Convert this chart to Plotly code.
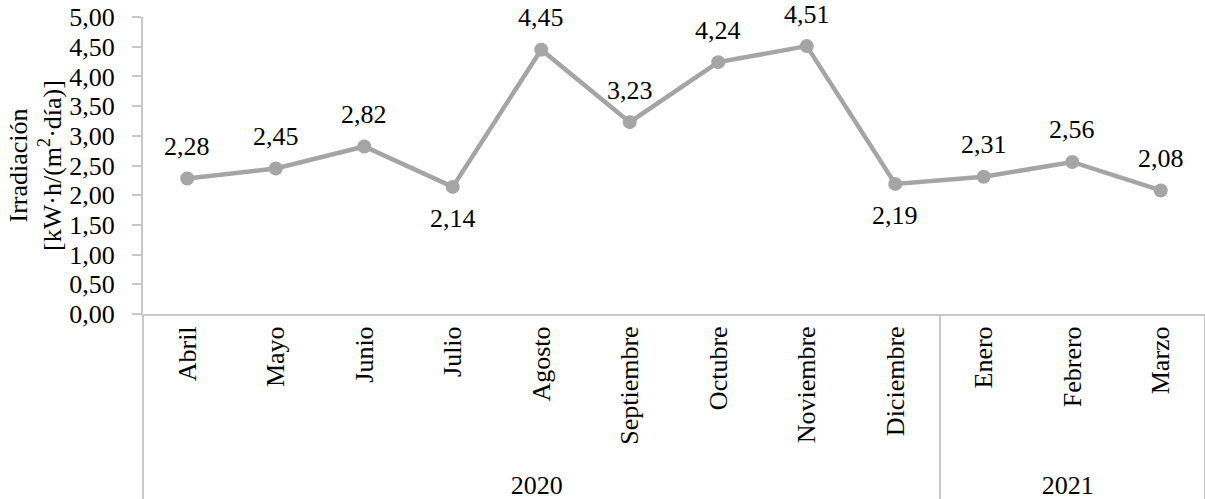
import plotly.graph_objects as go

# Monthly mean daily irradiation, April 2020 - March 2021
years = ["2020"] * 9 + ["2021"] * 3
months = ["Abril", "Mayo", "Junio", "Julio", "Agosto", "Septiembre",
          "Octubre", "Noviembre", "Diciembre", "Enero", "Febrero", "Marzo"]
irradiation = [2.28, 2.45, 2.82, 2.14, 4.45, 3.23, 4.24, 4.51, 2.19, 2.31, 2.56, 2.08]
# +1: label above the point, -1: label below the point
label_side = [1, 1, 1, -1, 1, 1, 1, 1, -1, 1, 1, 1]

y_ticks = [0, 0.5, 1, 1.5, 2, 2.5, 3, 3.5, 4, 4.5, 5]

FONT = "Times New Roman, Liberation Serif, Times, serif"
FSIZE = 26
LINE_GREY = "#A5A5A5"
AXIS_GREY = "#C8C8C8"

fig = go.Figure()
fig.add_trace(go.Scatter(
    x=[years, months],
    y=irradiation,
    mode="lines+markers",
    line=dict(color=LINE_GREY, width=4.5),
    marker=dict(color=LINE_GREY, size=14),
    showlegend=False,
))

# Value labels with decimal comma, placed above or below each point
for i, (v, side) in enumerate(zip(irradiation, label_side)):
    fig.add_annotation(
        x=i, y=v, xref="x", yref="y",
        text=f"{v:.2f}".replace(".", ","),
        showarrow=False,
        yanchor="middle",
        yshift=32 * side,
        font=dict(family=FONT, size=FSIZE, color="black"),
    )

fig.update_layout(
    width=1205,
    height=499,
    margin=dict(l=143, r=0, t=17, b=185),
    paper_bgcolor="white",
    plot_bgcolor="white",
    separators=",.",
    font=dict(family=FONT, size=FSIZE, color="black"),
)

fig.update_xaxes(
    type="multicategory",
    range=[-0.5, len(months) - 0.5],
    showline=True,
    linecolor=AXIS_GREY,
    linewidth=2,
    showgrid=False,
    ticks="",
    tickangle=-90,
    tickfont=dict(family=FONT, size=FSIZE, color="black"),
    showdividers=True,
    dividercolor=AXIS_GREY,
    dividerwidth=2,
    automargin=False,
)

fig.update_yaxes(
    range=[0, 5],
    tickvals=y_ticks,
    tickformat=".2f",
    showline=True,
    linecolor=AXIS_GREY,
    linewidth=2,
    showgrid=False,
    zeroline=False,
    ticks="outside",
    ticklen=9,
    tickwidth=2,
    tickcolor=AXIS_GREY,
    ticklabelstandoff=12,
    tickfont=dict(family=FONT, size=FSIZE, color="black"),
    automargin=False,
    title=dict(text="Irradiación<br>[kW·h/(m<sup>2</sup>·día)]",
               font=dict(family=FONT, size=FSIZE, color="black"),
               standoff=0),
)

fig.write_html("out.html")
